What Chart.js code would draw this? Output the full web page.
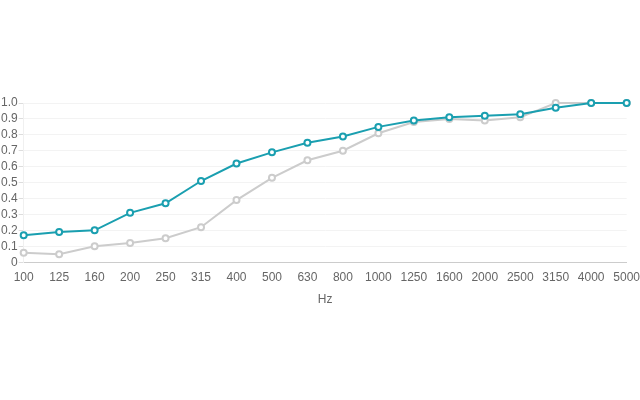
<!DOCTYPE html>
<html>
<head>
<meta charset="utf-8">
<script src="https://cdn.jsdelivr.net/npm/chart.js@4"></script>
<style>
  html, body { margin: 0; padding: 0; background: #fff; }
  #wrap { width: 640px; height: 400px; }
</style>
</head>
<body>
<div id="wrap"><canvas id="grafico" width="640" height="400"></canvas></div>
<script>
// frequências (Hz)
const frequencias = ['100', '125', '160', '200', '250', '315', '400', '500', '630', '800',
  '1000', '1250', '1600', '2000', '2500', '3150', '4000', '5000'];

// coeficiente - série azul
const serieAzul = [0.17, 0.19, 0.20, 0.31, 0.37, 0.51, 0.62, 0.69, 0.75, 0.79,
  0.85, 0.89, 0.91, 0.92, 0.93, 0.97, 1.0, 1.0];

// coeficiente - série cinza
const serieCinza = [0.06, 0.05, 0.10, 0.12, 0.15, 0.22, 0.39, 0.53, 0.64, 0.70,
  0.81, 0.88, 0.90, 0.89, 0.91, 1.0, 1.0, 1.0];

const ticksY = [0, 0.1, 0.2, 0.3, 0.4, 0.5, 0.6, 0.7, 0.8, 0.9, 1.0];

Chart.defaults.font.family = '"Liberation Sans", Arial, sans-serif';
Chart.defaults.font.size = 12;
Chart.defaults.color = '#666';

const ctx = document.getElementById('grafico').getContext('2d');
new Chart(ctx, {
  type: 'line',
  data: {
    labels: frequencias,
    datasets: [
      {
        label: 'Cinza',
        data: serieCinza,
        borderColor: '#cccccc',
        backgroundColor: '#ffffff',
        borderWidth: 2,
        pointRadius: 3,
        pointBorderWidth: 2,
        pointBackgroundColor: '#ffffff',
        tension: 0,
        clip: false,
        order: 2
      },
      {
        label: 'Azul',
        data: serieAzul,
        borderColor: '#1a9fb0',
        backgroundColor: '#ffffff',
        borderWidth: 2,
        pointRadius: 3,
        pointBorderWidth: 2,
        pointBackgroundColor: '#ffffff',
        tension: 0,
        clip: false,
        order: 1
      }
    ]
  },
  options: {
    responsive: false,
    animation: false,
    layout: { padding: { top: 103, bottom: 93, left: 0, right: 0 } },
    plugins: { legend: { display: false }, tooltip: { enabled: false } },
    scales: {
      x: {
        offset: false,
        grid: {
          display: true,
          drawOnChartArea: false,
          drawTicks: true,
          tickLength: 8,
          color: 'rgba(0,0,0,0)'
        },
        border: { color: '#cccccc' },
        ticks: { maxRotation: 0, autoSkip: false, padding: 0 },
        title: { display: true, text: 'Hz', padding: { top: 8, bottom: 0 } }
      },
      y: {
        min: 0,
        max: 1,
        afterBuildTicks: function(axis) {
          axis.ticks = ticksY.map(v => ({ value: v }));
        },
        grid: { color: '#f3f3f3', tickColor: '#dddddd', tickLength: 5 },
        border: { color: '#f0f0f0' },
        ticks: {
          autoSkip: false,
          padding: 1,
          callback: function(v) { return v === 0 ? '0' : v.toFixed(1); }
        }
      }
    }
  }
});
</script>
</body>
</html>
